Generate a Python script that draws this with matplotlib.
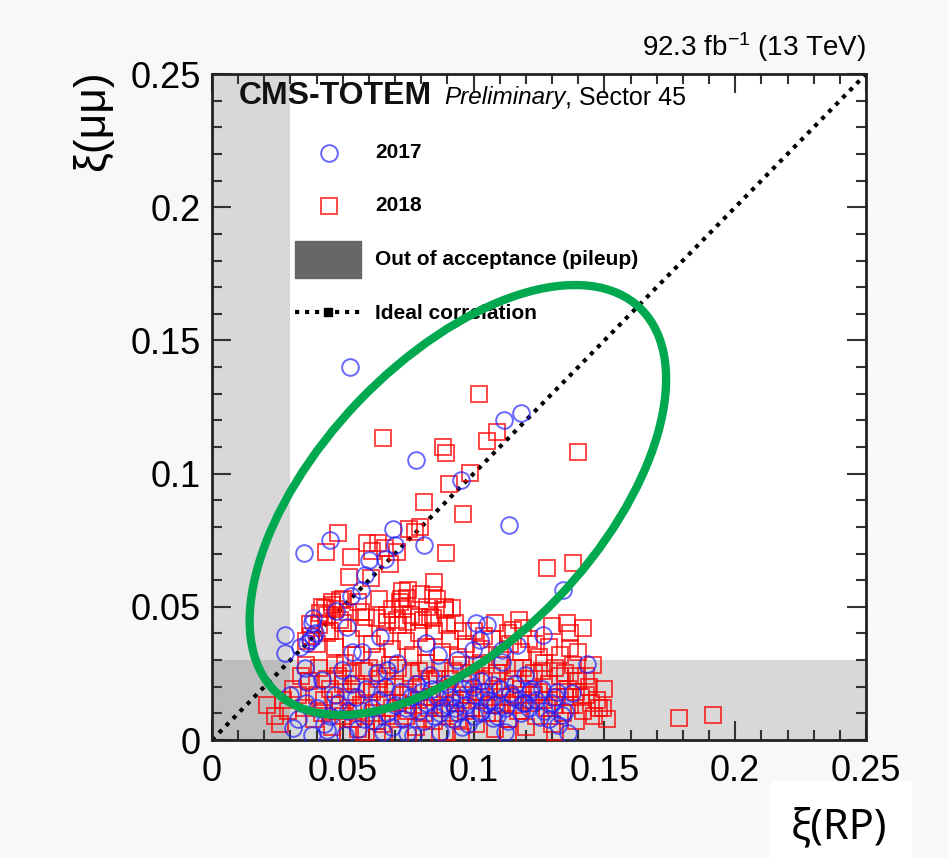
import numpy as np
import matplotlib.pyplot as plt
from matplotlib.patches import Ellipse, Rectangle
from matplotlib.lines import Line2D
from matplotlib.ticker import MultipleLocator, FixedLocator, FixedFormatter

# 2018 points, xi(RP) vs xi(mumu)
x18 = [0.102, 0.1088, 0.105, 0.0655, 0.0882, 0.0893, 0.1398, 0.0986, 0.0907, 0.0812,
       0.0958, 0.0752, 0.0776, 0.0894, 0.0483, 0.0436, 0.053, 0.0591, 0.0636, 0.0661,
       0.0706, 0.0525, 0.0607, 0.0751, 0.0721, 0.0847, 0.0844, 0.0891, 0.128, 0.1381,
       0.1174, 0.1298, 0.1356, 0.1417, 0.1368, 0.1786, 0.1914, 0.1509, 0.1496, 0.147,
       0.1458, 0.0725, 0.0744, 0.0719, 0.0891, 0.0833, 0.063, 0.0668, 0.0706, 0.0744,
       0.0808, 0.0846, 0.0897, 0.0489, 0.0458, 0.0432, 0.0413, 0.0375, 0.0795, 0.0916,
       0.0821, 0.1152, 0.061, 0.068,
       0.038, 0.041, 0.044, 0.047, 0.050, 0.045, 0.040, 0.036, 0.052, 0.042,
       0.044, 0.047, 0.050, 0.053, 0.055, 0.058, 0.061, 0.063, 0.066, 0.069,
       0.071, 0.074, 0.077, 0.079, 0.082, 0.085, 0.088, 0.091, 0.094, 0.097,
       0.100, 0.103, 0.107, 0.110, 0.114, 0.118, 0.121, 0.125, 0.129, 0.133,
       0.067, 0.073, 0.079, 0.057,
       0.046, 0.049, 0.056, 0.059, 0.064, 0.069, 0.076, 0.080, 0.086, 0.093,
       0.096, 0.104, 0.108, 0.113, 0.119, 0.124, 0.137, 0.140,
       0.021, 0.024, 0.027, 0.029, 0.026, 0.033, 0.035, 0.037, 0.039, 0.041,
       0.043, 0.045, 0.046, 0.048, 0.049, 0.051, 0.052, 0.054, 0.055, 0.057,
       0.058, 0.059, 0.061, 0.062, 0.064, 0.065, 0.066, 0.068, 0.069, 0.070,
       0.072, 0.073, 0.074, 0.076, 0.077, 0.078, 0.080, 0.081, 0.082, 0.084,
       0.085, 0.086, 0.088, 0.089, 0.090, 0.092, 0.093, 0.094, 0.096, 0.097,
       0.098, 0.100, 0.101, 0.102, 0.104, 0.105, 0.106, 0.108, 0.109, 0.110,
       0.112, 0.113, 0.114, 0.116, 0.117, 0.118, 0.120, 0.121, 0.122, 0.124,
       0.125, 0.126, 0.128, 0.129, 0.130, 0.132, 0.133, 0.134, 0.136, 0.137,
       0.138, 0.139, 0.140, 0.141, 0.142, 0.144, 0.145, 0.146,
       0.031, 0.034, 0.036, 0.040, 0.042, 0.044, 0.047, 0.050, 0.053, 0.056,
       0.060, 0.063, 0.067, 0.071, 0.075, 0.079, 0.083, 0.087, 0.091, 0.095,
       0.099, 0.103, 0.107, 0.111, 0.115, 0.119, 0.123, 0.127, 0.131, 0.135,
       0.139, 0.143, 0.148, 0.150,
       0.047, 0.050, 0.053, 0.056, 0.060, 0.063, 0.067, 0.071, 0.075, 0.079,
       0.083, 0.087, 0.091, 0.095, 0.099, 0.103, 0.107, 0.111, 0.115, 0.119,
       0.123, 0.127, 0.131, 0.135, 0.139, 0.143,
       0.052, 0.063, 0.081, 0.095, 0.113, 0.131]
y18 = [0.130, 0.1157, 0.1124, 0.1132, 0.110, 0.1076, 0.1082, 0.1001, 0.0961, 0.0892,
       0.0848, 0.0791, 0.0782, 0.0703, 0.0776, 0.0707, 0.0688, 0.0741, 0.0738, 0.072,
       0.0707, 0.0611, 0.0607, 0.0563, 0.0528, 0.0595, 0.0544, 0.050, 0.0644, 0.0663,
       0.045, 0.0428, 0.0438, 0.0422, 0.0344, 0.0081, 0.0094, 0.0078, 0.0119, 0.015,
       0.0282, 0.056, 0.0532, 0.0519, 0.0488, 0.0463, 0.0457, 0.0444, 0.045, 0.0444,
       0.045, 0.0457, 0.0432, 0.0526, 0.0507, 0.0494, 0.0476, 0.0435, 0.080, 0.0494,
       0.050, 0.0413, 0.071, 0.066,
       0.039, 0.043, 0.047, 0.049, 0.053, 0.041, 0.036, 0.037, 0.048, 0.050,
       0.040, 0.035, 0.044, 0.038, 0.032, 0.042, 0.036, 0.031, 0.039, 0.034,
       0.043, 0.037, 0.032, 0.040, 0.035, 0.041, 0.033, 0.038, 0.031, 0.036,
       0.041, 0.034, 0.038, 0.031, 0.036, 0.033, 0.038, 0.031, 0.035, 0.032,
       0.047, 0.049, 0.046, 0.048,
       0.052, 0.045, 0.052, 0.046, 0.053, 0.049, 0.047, 0.055, 0.053, 0.044,
       0.041, 0.039, 0.044, 0.040, 0.042, 0.036, 0.040, 0.033,
       0.013, 0.009, 0.015, 0.011, 0.006, 0.017, 0.012, 0.022, 0.008, 0.027,
       0.015, 0.019, 0.005, 0.024, 0.011, 0.029, 0.016, 0.008, 0.021, 0.013,
       0.026, 0.003, 0.018, 0.010, 0.023, 0.006, 0.015, 0.028, 0.012, 0.020,
       0.002, 0.017, 0.009, 0.025, 0.013, 0.005, 0.021, 0.010, 0.029, 0.016,
       0.007, 0.023, 0.012, 0.019, 0.003, 0.026, 0.014, 0.008, 0.021, 0.011,
       0.017, 0.028, 0.006, 0.015, 0.022, 0.010, 0.018, 0.004, 0.025, 0.013,
       0.020, 0.008, 0.016, 0.027, 0.011, 0.019, 0.005, 0.023, 0.014, 0.009,
       0.018, 0.026, 0.012, 0.021, 0.006, 0.016, 0.024, 0.010, 0.019, 0.013,
       0.028, 0.007, 0.022, 0.016, 0.011, 0.020, 0.014, 0.009,
       0.019, 0.024, 0.028, 0.017, 0.010, 0.023, 0.028, 0.021, 0.025, 0.004,
       0.027, 0.007, 0.024, 0.027, 0.011, 0.026, 0.022, 0.027, 0.023, 0.028,
       0.025, 0.029, 0.024, 0.028, 0.023, 0.027, 0.025, 0.029, 0.027, 0.025,
       0.024, 0.017, 0.012, 0.019,
       0.013, 0.009, 0.018, 0.011, 0.014, 0.019, 0.009, 0.014, 0.018, 0.015,
       0.012, 0.017, 0.010, 0.015, 0.012, 0.018, 0.013, 0.016, 0.013, 0.015,
       0.017, 0.015, 0.013, 0.016, 0.018, 0.024,
       0.002, 0.001, 0.002, 0.001, 0.002, 0.003]

# 2017 points
x17 = [0.0528, 0.1116, 0.118, 0.0779, 0.0953, 0.1134, 0.0692, 0.081, 0.0452, 0.0352,
       0.070, 0.060, 0.066, 0.0585, 0.057, 0.0531, 0.1343, 0.101, 0.105, 0.1267,
       0.1165, 0.1432, 0.0474, 0.0387, 0.0515, 0.082, 0.0642, 0.0572, 0.0534, 0.0279,
       0.0279, 0.0336, 0.0362, 0.0387, 0.0865, 0.063, 0.0668, 0.0706, 0.0833, 0.0356,
       0.0362, 0.0419, 0.0496, 0.0298, 0.0311, 0.0381, 0.0438, 0.0508, 0.0655, 0.0744,
       0.077, 0.0872, 0.1025, 0.0999, 0.1107, 0.1107, 0.0935, 0.1197, 0.1075, 0.0999,
       0.1139, 0.1216, 0.1311, 0.1375, 0.1197, 0.1254, 0.1337, 0.1324, 0.1362, 0.112,
       0.0954, 0.1025, 0.1075, 0.105, 0.0903, 0.0948, 0.0986, 0.0375, 0.0394, 0.0381,
       0.040, 0.045, 0.048, 0.052, 0.055, 0.058, 0.061, 0.064, 0.067, 0.070,
       0.073, 0.076, 0.079, 0.082, 0.085, 0.088, 0.091, 0.094, 0.097, 0.100,
       0.103, 0.106, 0.109, 0.112, 0.115, 0.118, 0.121, 0.124, 0.127, 0.130,
       0.053, 0.059, 0.066, 0.072, 0.078, 0.084, 0.090, 0.096, 0.103, 0.110,
       0.116, 0.122, 0.135, 0.132, 0.036, 0.033,
       0.043, 0.047, 0.056, 0.062, 0.069, 0.074, 0.081, 0.086, 0.092, 0.098,
       0.104, 0.108, 0.113, 0.119, 0.126, 0.129, 0.087, 0.093, 0.100, 0.080]
y17 = [0.140, 0.120, 0.1229, 0.105, 0.0976, 0.0807, 0.0793, 0.0732, 0.0751, 0.0703,
       0.0732, 0.0676, 0.0678, 0.0619, 0.0563, 0.0542, 0.0563, 0.044, 0.0432, 0.0394,
       0.0357, 0.0284, 0.0485, 0.0457, 0.0425, 0.0363, 0.0388, 0.0331, 0.0331, 0.0394,
       0.0325, 0.035, 0.0363, 0.0388, 0.0319, 0.025, 0.0263, 0.0288, 0.0244, 0.0269,
       0.0219, 0.0225, 0.0263, 0.0169, 0.0044, 0.0019, 0.0038, 0.0019, 0.0031, 0.0025,
       0.0019, 0.0031, 0.0375, 0.0338, 0.0338, 0.0294, 0.030, 0.0244, 0.0206, 0.020,
       0.0175, 0.0181, 0.0163, 0.0175, 0.0138, 0.0088, 0.0094, 0.0056, 0.0025, 0.0031,
       0.005, 0.010, 0.0081, 0.0138, 0.0131, 0.0156, 0.0219, 0.0375, 0.0402, 0.0438,
       0.012, 0.009, 0.014, 0.011, 0.016, 0.008, 0.012, 0.015, 0.010, 0.013,
       0.008, 0.016, 0.011, 0.014, 0.009, 0.012, 0.016, 0.010, 0.013, 0.017,
       0.011, 0.015, 0.009, 0.012, 0.016, 0.010, 0.012, 0.015, 0.011, 0.014,
       0.021, 0.019, 0.020, 0.018, 0.021, 0.019, 0.021, 0.019, 0.022, 0.019,
       0.021, 0.019, 0.011, 0.018, 0.014, 0.008,
       0.006, 0.017, 0.004, 0.007, 0.005, 0.012, 0.007, 0.016, 0.008, 0.006,
       0.018, 0.013, 0.007, 0.014, 0.019, 0.008, 0.010, 0.012, 0.009, 0.018]

tick_vals = [0, 0.05, 0.1, 0.15, 0.2, 0.25]
tick_labels = ['0', '0.05', '0.1', '0.15', '0.2', '0.25']
cut = 0.03  # pileup acceptance limit

plt.rcParams['font.family'] = ['Liberation Sans', 'DejaVu Sans']
plt.rcParams['mathtext.default'] = 'regular'

fig = plt.figure(figsize=(9.48, 8.58), dpi=100, facecolor='#f8f8f8')
ax = fig.add_axes([0.2236, 0.1375, 0.6899, 0.7762])
ax.set_facecolor('white')

# grey out-of-acceptance bands (overlap in the corner is darker)
ax.axvspan(0, cut, color='0.5', alpha=0.3, lw=0, zorder=1)
ax.axhspan(0, cut, color='0.5', alpha=0.3, lw=0, zorder=1)

ax.plot(tick_vals, tick_vals, color='black', ls=(0, (1, 1.4)), lw=3, zorder=2)

ax.plot(x18, y18, ls='none', marker='s', ms=11, mfc='none', mec='red',
        mew=1.4, alpha=0.72, zorder=3)
ax.plot(x17, y17, ls='none', marker='o', ms=12, mfc='none', mec='#2020ff',
        mew=1.4, alpha=0.68, zorder=4)

ell = Ellipse((0.094, 0.0901), 0.2004, 0.106, angle=45.7, fill=False,
              ec='#00a84f', lw=6, zorder=5)
ax.add_patch(ell)

ax.set_xlim(0, 0.25)
ax.set_ylim(0, 0.25)
for axis in (ax.xaxis, ax.yaxis):
    axis.set_major_locator(FixedLocator(tick_vals))
    axis.set_major_formatter(FixedFormatter(tick_labels))
    axis.set_minor_locator(MultipleLocator(0.01))
ax.tick_params(which='both', direction='in', top=True, right=True, width=1.5,
               color='#333333')
ax.tick_params(which='major', length=14, labelsize=26)
ax.tick_params(which='minor', length=7)
ax.tick_params(axis='x', pad=10)
ax.tick_params(axis='y', pad=8)
for s in ax.spines.values():
    s.set_linewidth(2)
    s.set_color('#222222')

# texts
ax.text(0.041, 0.955, 'CMS-TOTEM', transform=ax.transAxes, fontsize=23,
        fontweight='bold', va='baseline', color='#111111')
ax.text(0.355, 0.955, 'Preliminary', transform=ax.transAxes, fontsize=17.5,
        style='italic', va='baseline')
ax.text(0.540, 0.955, ', Sector 45', transform=ax.transAxes, fontsize=18,
        va='baseline')
fig.text(0.9135, 0.935, r'92.3 fb$^{-1}$ (13 TeV)', fontsize=20, ha='right',
         va='baseline')

# legend drawn by hand
lx_mark, lx_text = 0.179, 0.249
ax.plot([lx_mark], [0.882], transform=ax.transAxes, marker='o', ms=12,
        mfc='none', mec='#2020ff', mew=1.4, alpha=0.68)
ax.text(lx_text, 0.882, '2017', transform=ax.transAxes, fontsize=15,
        fontweight='bold', va='center')
ax.plot([lx_mark], [0.802], transform=ax.transAxes, marker='s', ms=11,
        mfc='none', mec='red', mew=1.4, alpha=0.72)
ax.text(lx_text, 0.802, '2018', transform=ax.transAxes, fontsize=15,
        fontweight='bold', va='center')
ax.add_patch(Rectangle((0.127, 0.694), 0.101, 0.056, transform=ax.transAxes,
                       fc='#666666', ec='#666666', zorder=6))
ax.text(lx_text, 0.722, 'Out of acceptance (pileup)', transform=ax.transAxes,
        fontsize=15, fontweight='bold', va='center')
ax.add_line(Line2D([0.127, 0.228], [0.643, 0.643], transform=ax.transAxes,
                   color='black', ls=(0, (1, 1.4)), lw=3, zorder=6))
ax.plot([0.177], [0.643], transform=ax.transAxes, marker='s', ms=6,
        color='black', zorder=7)
ax.text(lx_text, 0.640, 'Ideal correlation', transform=ax.transAxes,
        fontsize=15, fontweight='bold', va='center')

# axis titles
fig.text(0.098, 0.918, 'ξ(μμ)', rotation=90, fontsize=32, ha='center',
         va='top')
fig.patches.append(Rectangle((0.812, 0.0), 0.15, 0.09, transform=fig.transFigure,
                             fc='white', ec='none', zorder=0))
fig.text(0.885, 0.036, 'ξ(RP)', fontsize=30, ha='center', va='center',
         family=['Noto Sans', 'DejaVu Sans'])

fig.savefig('out.png', dpi=100, facecolor=fig.get_facecolor())
